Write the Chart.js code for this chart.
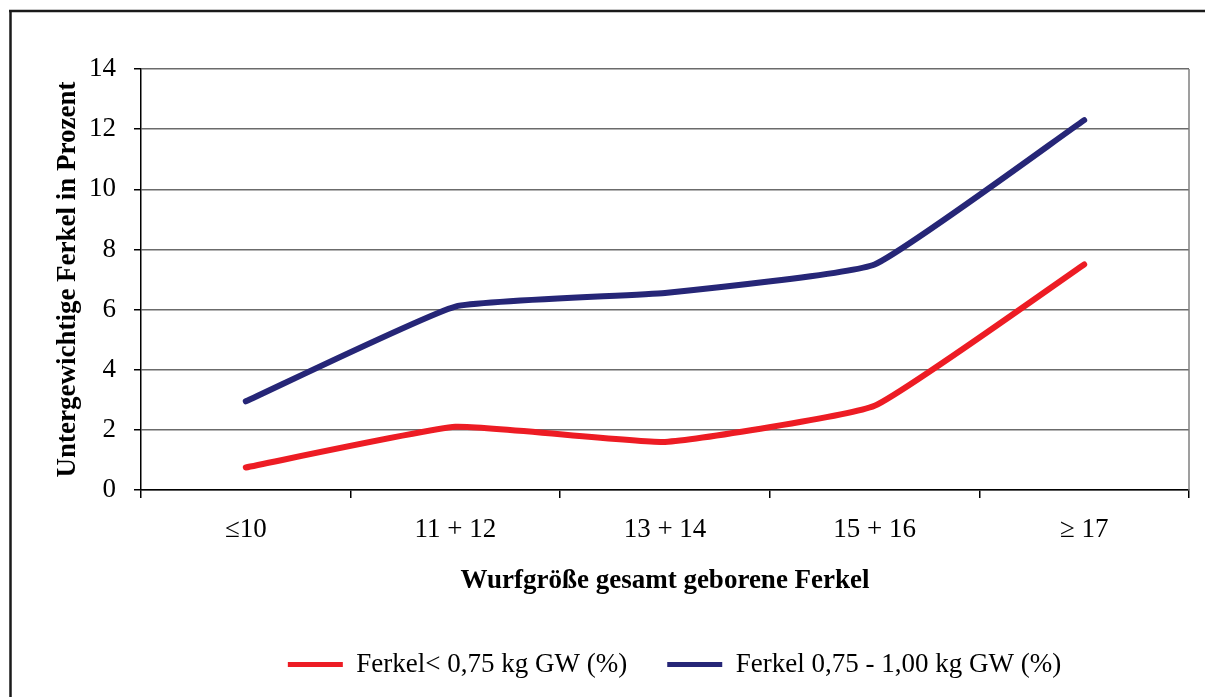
<!DOCTYPE html>
<html>
<head>
<meta charset="utf-8">
<script src="https://cdn.jsdelivr.net/npm/chart.js@4.4.0/dist/chart.umd.min.js"></script>
<style>
  html, body { margin: 0; padding: 0; background: #fff; }
  #wrap { position: relative; width: 1205px; height: 697px; }
</style>
</head>
<body>
<div id="wrap"><canvas id="myChart" width="1205" height="697"></canvas></div>
<script>
// data
const categories = ['\u226410', '11 + 12', '13 + 14', '15 + 16', '\u2265 17'];
const ferkelUnter075 = [0.75, 2.1, 1.6, 2.8, 7.5];
const ferkel075bis100 = [2.95, 6.1, 6.55, 7.5, 12.3];
const seriesNames = ['Ferkel< 0,75 kg GW (%)', 'Ferkel 0,75 - 1,00 kg GW (%)'];

const serif = "'Liberation Serif', 'Times New Roman', serif";

// frame lines + right border of plot
const framePlugin = {
  id: 'frame',
  afterLayout(chart) {
    // legend sits a bit right of centre in the original
    const lg = chart.legend;
    lg.left += 56;
    lg.right += 56;
    lg.top -= 2;
    lg.bottom -= 2;
  },
  beforeDraw(chart) {
    const c = chart.ctx;
    c.save();
    c.fillStyle = '#fff';
    c.fillRect(0, 0, chart.width, chart.height);
    c.strokeStyle = '#1a1a1a';
    c.lineWidth = 2.5;
    c.beginPath();
    c.moveTo(9, 11);
    c.lineTo(chart.width, 11);
    c.moveTo(10.5, 11);
    c.lineTo(10.5, chart.height);
    c.stroke();
    c.restore();
  },
  beforeDatasetsDraw(chart) {
    const a = chart.chartArea;
    const c = chart.ctx;
    c.save();
    c.strokeStyle = '#7f7f7f';
    c.lineWidth = 1.5;
    c.beginPath();
    c.moveTo(a.right, a.top);
    c.lineTo(a.right, a.bottom);
    c.stroke();
    c.restore();
  }
};

var ctx = document.getElementById('myChart').getContext('2d');
var myChart = new Chart(ctx, {
  type: 'line',
  data: {
    labels: categories,
    datasets: [{
      label: seriesNames[0],
      data: ferkelUnter075,
      borderColor: '#ed1c24',
      backgroundColor: '#ed1c24',
      borderWidth: 6,
      pointRadius: 0,
      tension: 0.12,
      borderCapStyle: 'round',
      borderJoinStyle: 'round'
    }, {
      label: seriesNames[1],
      data: ferkel075bis100,
      borderColor: '#262677',
      backgroundColor: '#262677',
      borderWidth: 6,
      pointRadius: 0,
      tension: 0.12,
      borderCapStyle: 'round',
      borderJoinStyle: 'round'
    }]
  },
  options: {
    responsive: false,
    animation: false,
    layout: { padding: { left: 48, right: 16, top: 69, bottom: 7 } },
    plugins: {
      tooltip: { enabled: false },
      legend: {
        position: 'bottom',
        labels: {
          font: { family: serif, size: 27 },
          color: '#000',
          boxWidth: 55,
          boxHeight: 5,
          padding: 40,
          generateLabels(chart) {
            const items = Chart.defaults.plugins.legend.labels.generateLabels(chart);
            items.forEach(i => { i.lineWidth = 0; });
            return items;
          }
        }
      }
    },
    scales: {
      x: {
        offset: true,
        grid: {
          offset: true,
          drawOnChartArea: false,
          drawTicks: true,
          tickLength: 8,
          color: '#000',
          lineWidth: 1.5
        },
        border: { color: '#000', width: 1.5 },
        ticks: {
          font: { family: serif, size: 27 },
          color: '#000',
          padding: 16,
          maxRotation: 0
        },
        title: {
          display: true,
          text: 'Wurfgr\u00f6\u00dfe gesamt geborene Ferkel',
          font: { family: serif, size: 27, weight: 'bold' },
          color: '#000',
          padding: { top: 0, bottom: 16 }
        },
        afterFit(scale) { scale.height = 123; }
      },
      y: {
        min: 0,
        max: 14,
        ticks: {
          stepSize: 2,
          font: { family: serif, size: 27 },
          color: '#000',
          padding: 18
        },
        grid: {
          color: '#6b6b6b',
          lineWidth: 1.5,
          tickLength: 7,
          tickColor: '#000'
        },
        border: { color: '#000', width: 1.5 },
        title: {
          display: true,
          text: 'Untergewichtige Ferkel in Prozent',
          font: { family: serif, size: 27, weight: 'bold' },
          color: '#000',
          padding: { top: 4, bottom: 0 }
        },
        afterFit(scale) { scale.width = 141 - 48; }
      }
    }
  },
  plugins: [framePlugin]
});
</script>
</body>
</html>
